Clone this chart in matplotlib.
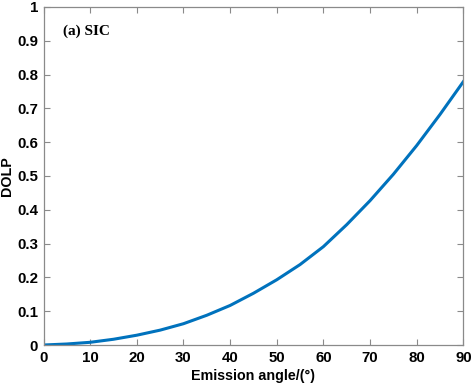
import matplotlib
matplotlib.use("Agg")
import matplotlib.pyplot as plt

angles = [0, 5, 10, 15, 20, 25, 30, 35, 40, 45, 50, 55, 60, 65, 70, 75, 80, 85, 90]
dolp = [0.0, 0.003, 0.008, 0.017, 0.029, 0.044, 0.063, 0.088, 0.117, 0.153,
        0.193, 0.238, 0.291, 0.356, 0.427, 0.505, 0.590, 0.682, 0.779]
xticks = [0, 10, 20, 30, 40, 50, 60, 70, 80, 90]
yticks = [0, 0.1, 0.2, 0.3, 0.4, 0.5, 0.6, 0.7, 0.8, 0.9, 1]
yticklabels = ["0", "0.1", "0.2", "0.3", "0.4", "0.5", "0.6", "0.7", "0.8", "0.9", "1"]

plt.rcParams['font.family'] = ['Liberation Sans', 'DejaVu Sans']

fig = plt.figure(figsize=(4.72, 3.88), dpi=100)
ax = fig.add_axes([0.0922, 0.1108, 0.8894, 0.8712])
ax.plot(angles, dolp, color='#0072BD', lw=2.2, solid_joinstyle='round')
ax.set_xlim(0, 90)
ax.set_ylim(0, 1)
ax.set_xticks(xticks)
ax.set_yticks(yticks)
ax.set_yticklabels(yticklabels)
for s in ax.spines.values():
    s.set_color('#8a8a8a')
    s.set_linewidth(0.9)
ax.tick_params(direction='in', length=4, width=0.8, color='#8a8a8a',
               top=True, right=True, labelsize=10.8, pad=4)
for lab in ax.get_xticklabels() + ax.get_yticklabels():
    lab.set_fontweight('bold')
ax.set_xlabel('Emission angle/(°)', fontsize=10.3, fontweight='bold', labelpad=3)
ax.set_ylabel('DOLP', fontsize=10.3, fontweight='bold', labelpad=2)
ax.text(4.2, 0.929, '(a) SIC', family=['Liberation Serif', 'DejaVu Serif'],
        fontsize=11, fontweight='bold', va='center', ha='left')
fig.savefig('out.png', dpi=100)
